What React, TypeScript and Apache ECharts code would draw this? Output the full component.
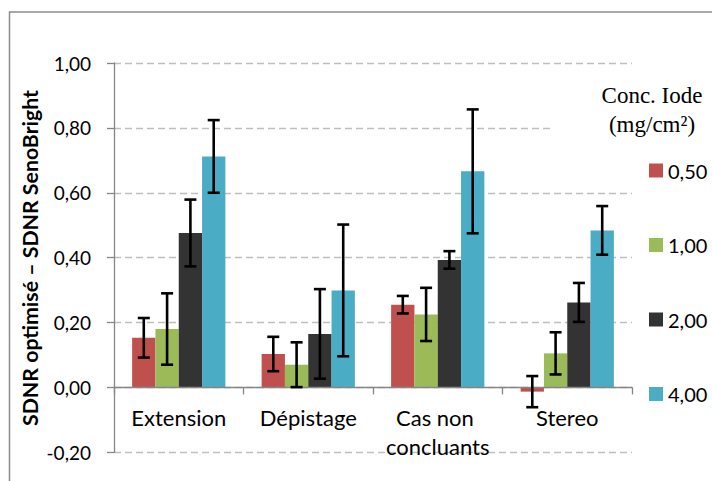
import React, { useEffect, useRef } from "react";
import * as echarts from "echarts";

const categories = ["Extension", "Dépistage", "Cas non concluants", "Stereo"];
const seriesNames = ["0,50", "1,00", "2,00", "4,00"];
const colors = ["#C0504D", "#9BBB59", "#333333", "#4BACC6"];

const values050 = [0.153, 0.103, 0.255, -0.013];
const values100 = [0.18, 0.07, 0.225, 0.105];
const values200 = [0.476, 0.165, 0.393, 0.262];
const values400 = [0.712, 0.299, 0.666, 0.484];

const err050 = [0.061, 0.053, 0.027, 0.048];
const err100 = [0.11, 0.069, 0.082, 0.065];
const err200 = [0.103, 0.138, 0.027, 0.06];
const err400 = [0.112, 0.203, 0.191, 0.075];

const yTicks = { min: -0.2, max: 1.0, interval: 0.2 };
const legendTitle = ["Conc. Iode", "(mg/cm²)"];
const yAxisTitle = "SDNR optimisé – SDNR SenoBright";

const allValues = [values050, values100, values200, values400];
const allErrors = [err050, err100, err200, err400];

const CAT_GAP = 0.28;
const SANS = "Lato, 'Open Sans', sans-serif";

const GRID_TOP = 63;
const GRID_BOTTOM = 28.7;
const CHART_H = 481;

export default function App() {
  const ref = useRef<HTMLDivElement>(null);

  useEffect(() => {
    if (!ref.current) return;
    const chart = echarts.init(ref.current, null, { renderer: "svg" });

    const plotH = CHART_H - GRID_TOP - GRID_BOTTOM;
    const zeroOffset =
      -(plotH * (0 - yTicks.min)) / (yTicks.max - yTicks.min);

    const barSeries = seriesNames.map((name, i) => ({
      name,
      type: "bar",
      data: allValues[i],
      barGap: "0%",
      barCategoryGap: CAT_GAP * 100 + "%",
      itemStyle: { color: colors[i] },
      z: 2,
    }));

    const errSeries = seriesNames.map((name, i) => ({
      name: name + "-err",
      type: "custom",
      z: 5,
      silent: true,
      data: categories.map((_, j) => [j, allValues[i][j], allErrors[i][j]]),
      encode: { x: 0, y: 1 },
      renderItem: (params: any, api: any) => {
        const ci = api.value(0);
        const v = api.value(1);
        const e = api.value(2);
        const catW = api.size([1, 0])[0];
        const bw = (catW * (1 - CAT_GAP)) / 4;
        const c = api.coord([ci, v]);
        const x = c[0] + (i - 1.5) * bw;
        const top = api.coord([ci, v + e])[1];
        const bot = api.coord([ci, v - e])[1];
        const cap = 6;
        const style = { stroke: "#000", lineWidth: 2.6 };
        return {
          type: "group",
          children: [
            { type: "line", shape: { x1: x, y1: top, x2: x, y2: bot }, style },
            { type: "line", shape: { x1: x - cap, y1: top, x2: x + cap, y2: top }, style },
            { type: "line", shape: { x1: x - cap, y1: bot, x2: x + cap, y2: bot }, style },
          ],
        };
      },
    }));

    chart.setOption({
      animation: false,
      backgroundColor: "#fff",
      grid: {
        left: 114,
        right: 80,
        top: GRID_TOP,
        bottom: GRID_BOTTOM,
        containLabel: false,
        outerBoundsMode: "none",
      },
      xAxis: {
        type: "category",
        data: categories,
        offset: zeroOffset,
        axisLine: { show: true, onZero: false, lineStyle: { color: "#868686", width: 1.3 } },
        axisTick: { show: true, length: 7, lineStyle: { color: "#868686", width: 1.3 } },
        axisLabel: {
          fontFamily: SANS,
          fontSize: 22,
          color: "#000",
          margin: 16,
          lineHeight: 29,
          width: 120,
          overflow: "break",
          interval: 0,
        },
        z: 3,
      },
      yAxis: {
        type: "value",
        min: yTicks.min,
        max: yTicks.max,
        interval: yTicks.interval,
        axisLine: { show: true, lineStyle: { color: "#868686", width: 1.3 } },
        axisTick: { show: true, length: 7, lineStyle: { color: "#868686", width: 1.3 } },
        axisLabel: {
          fontFamily: SANS,
          fontSize: 19,
          color: "#000",
          margin: 23,
          formatter: (v: number) => v.toFixed(2).replace(".", ","),
        },
        splitLine: {
          show: true,
          lineStyle: { color: "#BFBFBF", width: 1.3, type: [7, 4] },
        },
      },
      legend: {
        data: seriesNames,
        orient: "vertical",
        left: 649,
        top: 160.5,
        itemWidth: 14,
        itemHeight: 14,
        itemGap: 54.5,
        icon: "rect",
        padding: 0,
        textStyle: { fontFamily: SANS, fontSize: 20, color: "#000", lineHeight: 14 },
      },
      graphic: [
        {
          type: "rect",
          z: 10,
          shape: { x: 550, y: 72, width: 162, height: 70 },
          style: { fill: "#fff" },
        },
        {
          type: "text",
          z: 11,
          x: 652,
          y: 95,
          style: {
            text: legendTitle[0],
            font: "23px 'Liberation Serif', serif",
            fill: "#000",
            textAlign: "center",
            textVerticalAlign: "middle",
          },
        },
        {
          type: "text",
          z: 11,
          x: 652,
          y: 124,
          style: {
            text: legendTitle[1],
            font: "23px 'Liberation Serif', serif",
            fill: "#000",
            textAlign: "center",
            textVerticalAlign: "middle",
          },
        },
        {
          type: "text",
          z: 11,
          x: 30,
          y: 258,
          rotation: Math.PI / 2,
          style: {
            text: yAxisTitle,
            font: "bold 21.3px Lato, sans-serif",
            fill: "#000",
            textAlign: "center",
            textVerticalAlign: "middle",
          },
        },
        {
          type: "polyline",
          z: 11,
          shape: { points: [[712, 12], [9.5, 12], [9.5, 481]] },
          style: { stroke: "#8c8c8c", lineWidth: 1.5, fill: "none" },
        },
      ],
      series: [...barSeries, ...errSeries],
    });

    return () => chart.dispose();
  }, []);

  return (
    <div
      ref={ref}
      style={{ position: "fixed", left: 0, top: 0, width: 712, height: 481 }}
    />
  );
}
